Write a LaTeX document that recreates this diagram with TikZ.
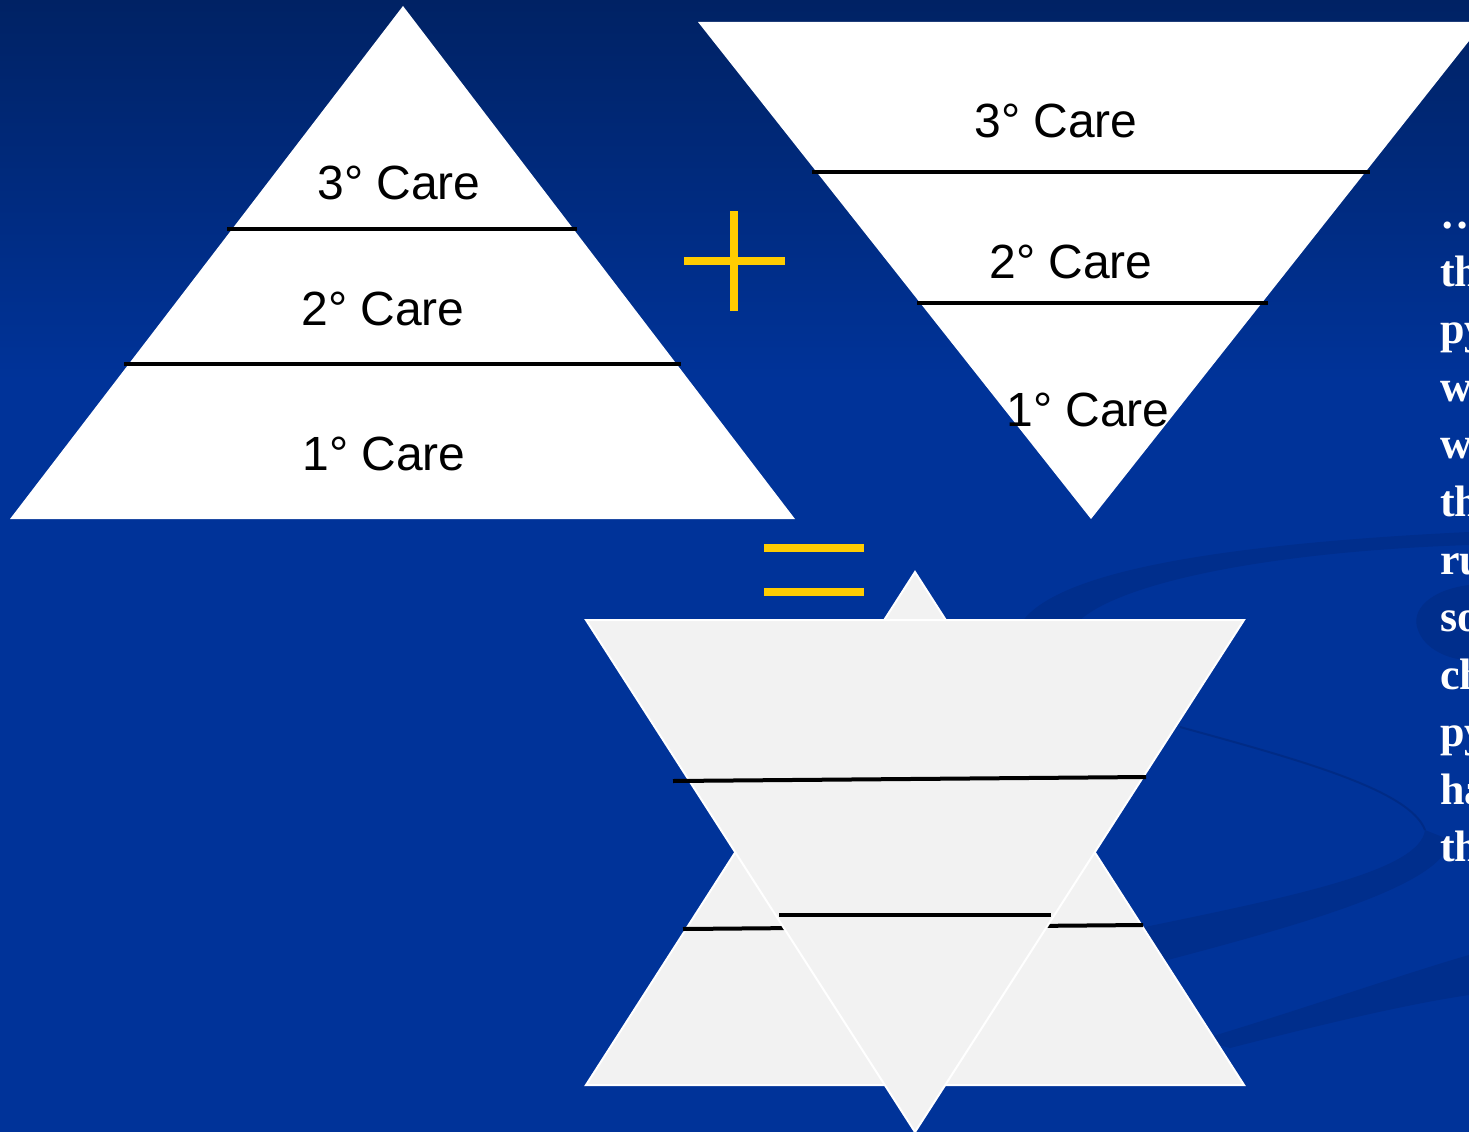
\documentclass[tikz,border=0pt]{standalone}
\usepackage{fontspec}
\setmainfont{Liberation Sans}
\newfontfamily\sidefont{Liberation Serif}
\definecolor{bgtop}{RGB}{0,34,100}
\definecolor{bgmain}{RGB}{0,51,153}
\definecolor{swoosh}{RGB}{0,42,130}
\definecolor{plusy}{RGB}{255,204,0}
\definecolor{stargray}{RGB}{242,242,242}
\begin{document}
\begin{tikzpicture}[x=1pt,y=-1pt,
  pyr/.style={fill=white},
  sep/.style={line width=4pt, black},
  care/.style={font=\fontsize{48}{48}\selectfont, text=black, inner sep=0pt, anchor=base},
  yel/.style={line width=8pt, plusy},
  startri/.style={fill=stargray, draw=white, line width=2pt, line join=miter},
  swo/.style={fill=swoosh, opacity=0.55},
  side/.style={font=\sidefont\bfseries\fontsize{44}{44}\selectfont, text=white, anchor=base west, inner sep=0pt}]
\useasboundingbox (0,0) rectangle (1469,1132);
\begin{scope}
\clip (0,0) rectangle (1469,1132);
% background
\fill[bgmain] (0,0) rectangle (1469,1132);
\shade[top color=bgtop, bottom color=bgmain] (0,0) rectangle (1469,380);
% decorative swooshes
\fill[swo] (1020,625) .. controls (1050,575) and (1200,545) .. (1469,532) -- (1469,545) .. controls (1260,552) and (1110,585) .. (1075,625) -- cycle;
\draw[swoosh, opacity=0.8, line width=2pt] (1180,727) .. controls (1300,760) and (1410,790) .. (1425,830);
\fill[swo] (1140,928) .. controls (1300,895) and (1420,870) .. (1425,830) -- (1450,840) .. controls (1445,885) and (1300,925) .. (1160,962) -- cycle;
\fill[swo] (1200,1040) .. controls (1300,1010) and (1400,975) .. (1469,955) -- (1469,995) .. controls (1400,1005) and (1300,1030) .. (1230,1048) -- cycle;
\fill[swo] (1469,585) .. controls (1430,590) and (1410,610) .. (1418,630) .. controls (1425,650) and (1450,660) .. (1469,660) -- cycle;

% left pyramid
\path[pyr] (403,6) coordinate (la) -- (795,519) coordinate (lr) -- (10,519) coordinate (ll) -- cycle;
\coordinate (l1a) at (227,229); \coordinate (l1b) at (577,229);
\coordinate (l2a) at (124,364); \coordinate (l2b) at (681,364);
\draw[sep] (l1a) -- (l1b);
\draw[sep] (l2a) -- (l2b);
\node[care] (l3) at (399,199) {3° Care};
\node[care] (l2) at (383,325) {2° Care};
\node[care] (l1) at (384,470) {1° Care};

% right inverted pyramid
\path[pyr] (698,22) coordinate (rl) -- (1484,22) coordinate (rr) -- (1091,519) coordinate (rb) -- cycle;
\coordinate (r1a) at (812,172); \coordinate (r1b) at (1370,172);
\coordinate (r2a) at (917,303); \coordinate (r2b) at (1268,303);
\draw[sep] (r1a) -- (r1b);
\draw[sep] (r2a) -- (r2b);
\node[care] (r3) at (1056,137) {3° Care};
\node[care] (r2) at (1071,278) {2° Care};
\node[care] (r1) at (1088,426) {1° Care};

% plus
\coordinate (ph1) at (684,261); \coordinate (ph2) at (785,261);
\coordinate (pv1) at (734,211); \coordinate (pv2) at (734,311);
\draw[yel] (ph1) -- (ph2);
\draw[yel] (pv1) -- (pv2);
% equals
\coordinate (e1a) at (764,548); \coordinate (e1b) at (864,548);
\coordinate (e2a) at (764,592); \coordinate (e2b) at (864,592);
\draw[yel] (e1a) -- (e1b);
\draw[yel] (e2a) -- (e2b);

% star: upward triangle
\path[startri] (915,572) coordinate (ua) -- (1244,1085) coordinate (ur) -- (586,1085) coordinate (ul) -- cycle;
\coordinate (u1a) at (683,929); \coordinate (u1b) at (1143,925);
\draw[sep] (u1a) -- (u1b);
% star: downward triangle
\path[startri] (586,620) coordinate (dl) -- (1244,620) coordinate (dr) -- (915,1132) coordinate (db) -- cycle;
\coordinate (d1a) at (673,781); \coordinate (d1b) at (1146,777);
\coordinate (d2a) at (779,915); \coordinate (d2b) at (1051,915);
\draw[sep] (d1a) -- (d1b);
\draw[sep] (d2a) -- (d2b);

% right-hand text, cut by the edge
\node[side] (t0) at (1440,228) {\ldots};
\node[side] (t1) at (1440,286) {th};
\node[side] (t2) at (1440,343) {py};
\node[side] (t3) at (1440,401) {w};
\node[side] (t4) at (1440,458) {w};
\node[side] (t5) at (1440,516) {th};
\node[side] (t6) at (1440,574) {ru};
\node[side] (t7) at (1440,631) {so};
\node[side] (t8) at (1440,689) {ch};
\node[side] (t9) at (1440,746) {py};
\node[side] (t10) at (1440,804) {ha};
\node[side] (t11) at (1440,861) {th};
\end{scope}
\end{tikzpicture}
\end{document}
